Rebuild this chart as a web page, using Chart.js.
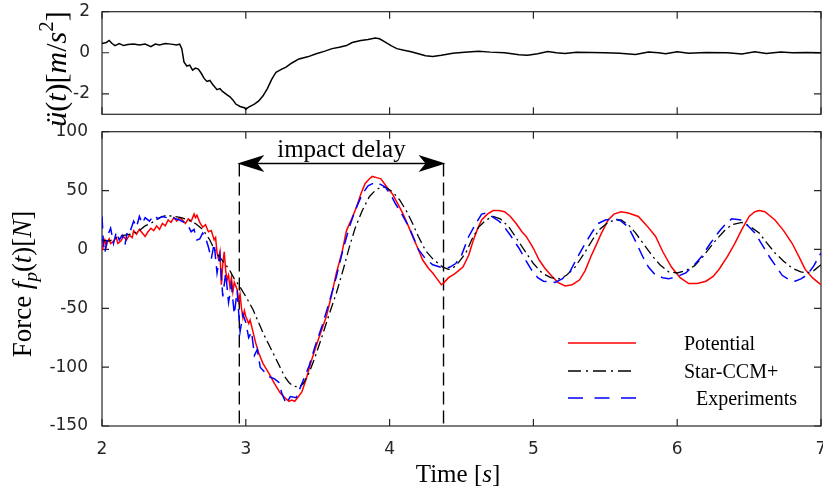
<!DOCTYPE html>
<html>
<head>
<meta charset="utf-8">
<script src="https://cdn.jsdelivr.net/npm/chart.js@4.4.0/dist/chart.umd.min.js"></script>
<style>
html,body{margin:0;padding:0;background:#fff;overflow:hidden;}
#wrap{position:relative;width:823px;height:494px;overflow:hidden;}
canvas{position:absolute;left:0;top:0;}
</style>
</head>
<body>
<div id="wrap">
  <canvas id="accChart" width="823" height="494"></canvas>
  <canvas id="forceChart" width="823" height="494"></canvas>
</div>
<script>
// ---------- data ----------
const timeTicks  = [2, 3, 4, 5, 6, 7];
const accTicks   = [-2, 0, 2];
const forceTicks = [-150, -100, -50, 0, 50, 100];
const timeRange  = [2, 7];
const accRange   = [-3, 2];
const forceRange = [-150, 100];

const seriesNames = ['Potential', 'Star-CCM+', 'Experiments'];

const impactStart = 2.955;
const impactEnd   = 4.375;
const impactLevel = 73;
const impactText  = 'impact delay';

// top panel: acceleration [t, a]
const acceleration = [
 [2.00,0.45],[2.03,0.5],[2.05,0.6],[2.07,0.45],[2.09,0.35],[2.12,0.45],[2.15,0.35],[2.18,0.4],
 [2.22,0.42],[2.26,0.38],[2.30,0.42],[2.34,0.3],[2.37,0.42],[2.40,0.38],[2.44,0.45],[2.48,0.42],
 [2.52,0.38],[2.54,0.42],[2.555,0.2],[2.57,-0.45],[2.59,-0.65],[2.61,-0.6],[2.63,-0.85],[2.65,-0.75],
 [2.67,-0.8],[2.69,-1.0],[2.71,-1.25],[2.73,-1.4],[2.75,-1.35],[2.77,-1.55],[2.80,-1.8],[2.82,-1.75],
 [2.84,-1.9],[2.87,-2.05],[2.89,-2.15],[2.91,-2.3],[2.93,-2.5],[2.96,-2.62],[2.99,-2.68],[3.00,-2.75],
 [3.02,-2.65],[3.06,-2.5],[3.09,-2.35],[3.12,-2.1],[3.15,-1.75],[3.18,-1.3],[3.21,-0.95],[3.25,-0.8],
 [3.28,-0.7],[3.32,-0.5],[3.37,-0.3],[3.43,-0.2],[3.49,-0.05],[3.55,0.08],[3.60,0.2],[3.65,0.27],
 [3.70,0.35],[3.74,0.5],[3.80,0.6],[3.85,0.65],[3.90,0.72],[3.93,0.68],[3.97,0.52],[4.01,0.35],
 [4.05,0.2],[4.10,0.12],[4.15,0.05],[4.20,-0.05],[4.25,-0.15],[4.30,-0.18],[4.36,-0.12],[4.44,-0.02],
 [4.52,0.02],[4.62,0.07],[4.70,0.03],[4.80,0.0],[4.90,-0.1],[4.96,-0.12],[5.03,-0.05],[5.10,0.06],
 [5.16,0.0],[5.22,-0.04],[5.30,0.02],[5.40,0.01],[5.50,0.0],[5.60,-0.02],[5.71,-0.08],[5.80,0.04],
 [5.87,0.0],[5.92,-0.05],[6.00,0.05],[6.08,-0.03],[6.20,0.01],[6.35,0.0],[6.45,-0.06],[6.54,0.05],
 [6.62,-0.04],[6.72,0.04],[6.80,0.0],[6.90,0.01],[7.00,0.0]
];

// bottom panel: force [t, F]
const potential = [
 [2.00,0],[2.005,9],[2.01,4],[2.02,8],[2.03,3],[2.04,7],[2.05,9],[2.06,5],[2.08,7],[2.10,10],[2.11,5],
 [2.13,7],[2.15,11],[2.17,8],[2.19,12],[2.21,10],[2.22,16],[2.24,13],[2.26,17],[2.28,14],[2.30,11],
 [2.32,15],[2.34,18],[2.36,16],[2.38,20],[2.40,17],[2.42,22],[2.44,20],[2.46,25],[2.48,23],[2.50,27],
 [2.52,24],[2.54,27],[2.56,25],[2.58,22],[2.60,26],[2.62,24],[2.64,30],[2.65,27],[2.66,29],[2.68,23],
 [2.70,19],[2.72,21],[2.74,15],[2.76,16],[2.78,8],[2.79,10],[2.80,-3],[2.81,-8],[2.82,-2],[2.83,-30],
 [2.84,-12],[2.85,-2],[2.86,-18],[2.87,-26],[2.88,-22],[2.89,-32],[2.90,-24],[2.91,-36],[2.92,-28],
 [2.94,-34],[2.95,-44],[2.96,-38],[2.97,-50],[2.98,-58],[2.99,-52],[3.00,-57],[3.02,-63],[3.03,-60],
 [3.05,-70],[3.07,-80],[3.09,-88],[3.12,-97],[3.16,-105],[3.20,-114],[3.24,-122],[3.28,-127],
 [3.30,-129],[3.32,-128],[3.34,-129],[3.36,-126],[3.39,-121],[3.42,-110],[3.46,-93],[3.50,-78],
 [3.56,-57],[3.60,-37],[3.63,-20],[3.67,-2],[3.70,16],[3.74,27],[3.77,36],[3.80,47],[3.83,56],
 [3.86,60],[3.88,62],[3.91,61],[3.94,60],[3.98,53],[4.02,47],[4.06,38],[4.09,31],[4.13,20],[4.16,11],
 [4.20,0],[4.23,-9],[4.27,-16],[4.30,-20],[4.33,-25],[4.36,-30],[4.38,-28],[4.41,-24],[4.45,-21],
 [4.48,-18],[4.51,-15],[4.55,-5],[4.58,7],[4.61,17],[4.64,25],[4.68,30],[4.72,33],[4.76,33],[4.80,32],
 [4.84,28],[4.88,22],[4.92,15],[4.95,11],[5.00,1],[5.04,-9],[5.08,-16],[5.13,-23],[5.17,-28],
 [5.22,-31],[5.27,-30],[5.32,-26],[5.36,-18],[5.40,-6],[5.43,2],[5.47,13],[5.52,25],[5.56,30],
 [5.61,32],[5.66,31],[5.73,28],[5.79,20],[5.85,11],[5.90,-2],[5.96,-15],[6.02,-24],[6.08,-29],
 [6.14,-29],[6.20,-27],[6.25,-23],[6.29,-17],[6.35,-6],[6.40,5],[6.45,17],[6.50,28],[6.54,32],
 [6.57,33],[6.61,32],[6.68,25],[6.74,16],[6.80,5],[6.85,-7],[6.89,-17],[6.94,-24],[6.99,-29],[7.00,-30]
];

const starCcm = [
 [2.00,8],[2.05,7],[2.10,10],[2.15,12],[2.20,13],[2.25,15],[2.30,20],[2.35,23],[2.40,27],[2.45,29],
 [2.50,28],[2.55,27],[2.60,25],[2.65,22],[2.70,17],[2.75,8],[2.79,-2],[2.84,-10],[2.885,-17],
 [2.92,-25],[2.955,-31],[3.00,-40],[3.05,-51],[3.12,-71],[3.21,-93],[3.27,-108],[3.30,-113],
 [3.33,-116],[3.37,-117],[3.40,-114],[3.44,-105],[3.48,-92],[3.53,-74],[3.58,-55],[3.63,-37],
 [3.68,-16],[3.72,2],[3.76,18],[3.81,33],[3.86,45],[3.90,50],[3.94,53],[3.97,53],[4.02,49],
 [4.07,42],[4.12,32],[4.16,22],[4.20,11],[4.25,-1],[4.30,-8],[4.34,-12],[4.37,-15],[4.41,-17],
 [4.44,-16],[4.48,-11],[4.53,-3],[4.57,8],[4.62,19],[4.67,25],[4.72,28],[4.77,26],[4.83,19],
 [4.89,8],[4.95,-3],[5.00,-12],[5.06,-20],[5.12,-24],[5.18,-25],[5.23,-22],[5.29,-15],[5.35,-4],
 [5.41,8],[5.46,17],[5.52,23],[5.57,25],[5.61,25],[5.66,21],[5.71,14],[5.77,4],[5.83,-6],[5.88,-13],
 [5.94,-19],[6.00,-20],[6.06,-18],[6.12,-14],[6.18,-6],[6.23,2],[6.27,8],[6.33,16],[6.38,21],
 [6.45,23],[6.50,20],[6.57,14],[6.62,6],[6.68,-3],[6.74,-10],[6.80,-16],[6.86,-19],[6.90,-20],
 [6.95,-18],[7.00,-13]
];

const experiments = [
 [2.00,28],[2.01,5],[2.02,-3],[2.04,12],[2.06,18],[2.08,5],[2.10,15],[2.12,8],[2.14,12],[2.16,4],
 [2.18,18],[2.20,17],[2.22,24],[2.24,19],[2.26,28],[2.28,22],[2.30,27],[2.33,24],[2.36,29],[2.39,26],
 [2.42,28],[2.45,27],[2.48,28],[2.51,26],[2.54,25],[2.57,23],[2.60,20],[2.62,15],[2.64,17],[2.66,8],
 [2.68,9],[2.70,14],[2.72,10],[2.74,2],[2.76,-8],[2.78,5],[2.80,-20],[2.82,-5],[2.84,-40],[2.86,-20],
 [2.88,-45],[2.90,-30],[2.92,-55],[2.94,-35],[2.96,-70],[2.98,-55],[3.00,-62],[3.02,-75],[3.04,-70],
 [3.06,-90],[3.08,-85],[3.10,-100],[3.13,-104],[3.16,-108],[3.20,-110],[3.23,-113],[3.25,-122],
 [3.28,-131],[3.31,-125],[3.35,-126],[3.38,-117],[3.41,-108],[3.44,-99],[3.48,-83],[3.53,-65],
 [3.58,-45],[3.63,-23],[3.67,-3],[3.72,19],[3.76,33],[3.81,47],[3.85,54],[3.90,57],[3.94,55],
 [3.97,53],[4.01,46],[4.04,39],[4.09,29],[4.135,19],[4.17,9],[4.20,0],[4.25,-8],[4.30,-13],
 [4.35,-15],[4.39,-16],[4.42,-15],[4.46,-12],[4.50,-5],[4.55,11],[4.60,22],[4.64,30],[4.68,31],
 [4.71,28],[4.75,25],[4.78,22],[4.84,12],[4.90,1],[4.95,-10],[4.99,-18],[5.03,-24],[5.07,-27],
 [5.15,-28],[5.20,-25],[5.25,-20],[5.30,-8],[5.36,5],[5.41,15],[5.45,22],[5.50,25],[5.57,26],
 [5.61,24],[5.66,19],[5.71,7],[5.76,-6],[5.80,-15],[5.85,-22],[5.90,-24],[5.94,-25],[6.00,-23],
 [6.06,-20],[6.12,-13],[6.17,-6],[6.23,5],[6.29,15],[6.34,22],[6.38,26],[6.45,25],[6.50,19],
 [6.54,14],[6.59,4],[6.64,-6],[6.69,-15],[6.73,-22],[6.78,-26],[6.82,-27],[6.86,-25],[6.90,-22],
 [6.95,-14],[6.99,-5],[7.00,-3]
];

// ---------- helpers ----------
const SERIF = '"Liberation Serif", "Times New Roman", serif';
const SANS  = '"DejaVu Sans", "Liberation Sans", sans-serif';
const AXC = '#262626';
const toXY = arr => arr.map(p => ({x: p[0], y: p[1]}));

function drawRich(ctx, segs, x, y, size, rotated) {
  ctx.save();
  ctx.translate(x, y);
  if (rotated) ctx.rotate(-Math.PI / 2);
  ctx.textAlign = 'left';
  ctx.textBaseline = 'alphabetic';
  ctx.fillStyle = '#000';
  const fontOf = s => (s.i ? 'italic ' : '') + Math.round(size * (s.sup || s.sub ? 0.7 : 1)) + 'px ' + SERIF;
  let total = 0;
  const widths = segs.map(s => { ctx.font = fontOf(s); const w = ctx.measureText(s.t).width; total += w; return w; });
  let cx = -total / 2;
  segs.forEach((s, k) => {
    ctx.font = fontOf(s);
    const dy = s.sub ? 0.22 * size : (s.sup ? -0.42 * size : 0);
    ctx.fillText(s.t, cx, dy);
    cx += widths[k];
  });
  ctx.restore();
}

const framePlugin = {
  id: 'frame',
  beforeDatasetsDraw(chart, args, opts) {
    const {ctx, chartArea: a, scales} = chart;
    ctx.save();
    ctx.strokeStyle = AXC;
    ctx.lineWidth = 1.2;
    ctx.strokeRect(a.left, a.top, a.right - a.left, a.bottom - a.top);
    const L = 7;
    ctx.beginPath();
    opts.xTicks.forEach(v => {
      const p = scales.x.getPixelForValue(v);
      ctx.moveTo(p, a.bottom); ctx.lineTo(p, a.bottom - L);
      ctx.moveTo(p, a.top); ctx.lineTo(p, a.top + L);
    });
    opts.yTicks.forEach(v => {
      const p = scales.y.getPixelForValue(v);
      ctx.moveTo(a.left, p); ctx.lineTo(a.left + L, p);
      ctx.moveTo(a.right, p); ctx.lineTo(a.right - L, p);
    });
    ctx.stroke();
    ctx.restore();
  }
};

const accTitle = [
  {t: 'ü', i: true}, {t: '('}, {t: 't', i: true}, {t: ')'}, {t: '['},
  {t: 'm', i: true}, {t: '/'}, {t: 's', i: true}, {t: '2', sup: true}, {t: ']'}
];
const forceTitle = [
  {t: 'Force '}, {t: 'f', i: true}, {t: 'p', i: true, sub: true}, {t: '('}, {t: 't', i: true},
  {t: ')'}, {t: '['}, {t: 'N', i: true}, {t: ']'}
];
const timeTitle = [{t: 'Time '}, {t: '['}, {t: 's', i: true}, {t: ']'}];

const accTitlePlugin = {
  id: 'accTitle',
  afterDraw(chart) {
    drawRich(chart.ctx, accTitle, 66, 69, 30, true);
  }
};

const legendStyles = [
  {color: '#ff0000', dash: [], width: 1.6},
  {color: '#000000', dash: [13, 5, 2, 5], width: 1.4},
  {color: '#0000ff', dash: [15, 11.5], width: 1.6}
];

const forceDecor = {
  id: 'forceDecor',
  afterDraw(chart) {
    const {ctx, scales} = chart;
    // axis titles
    drawRich(ctx, forceTitle, 31, 284, 27, true);
    drawRich(ctx, timeTitle, 458, 482, 25, false);
    // impact delay arrow
    const xl = scales.x.getPixelForValue(impactStart) - 2;
    const xr = scales.x.getPixelForValue(impactEnd) + 2;
    const ya = scales.y.getPixelForValue(impactLevel);
    ctx.save();
    ctx.strokeStyle = '#000'; ctx.fillStyle = '#000'; ctx.lineWidth = 1.5;
    ctx.beginPath(); ctx.moveTo(xl + 10, ya); ctx.lineTo(xr - 10, ya); ctx.stroke();
    const head = (tip, dir) => {
      const Lh = 27, W = 8.5, N = 20;
      ctx.beginPath();
      ctx.moveTo(tip, ya);
      ctx.lineTo(tip - dir * Lh, ya - W);
      ctx.lineTo(tip - dir * N, ya);
      ctx.lineTo(tip - dir * Lh, ya + W);
      ctx.closePath(); ctx.fill();
    };
    head(xl, -1); head(xr, 1);
    ctx.font = '25px ' + SERIF;
    ctx.textAlign = 'center'; ctx.textBaseline = 'alphabetic';
    ctx.fillText(impactText, (xl + xr) / 2, ya - 6);
    // legend
    const rows = [343, 371, 398];
    const textX = [684, 684, 696];
    ctx.font = '20px ' + SERIF;
    ctx.textAlign = 'left'; ctx.textBaseline = 'middle';
    seriesNames.forEach((name, k) => {
      const st = legendStyles[k];
      ctx.strokeStyle = st.color; ctx.lineWidth = st.width; ctx.setLineDash(st.dash);
      ctx.beginPath(); ctx.moveTo(568, rows[k]); ctx.lineTo(636, rows[k]); ctx.stroke();
      ctx.setLineDash([]);
      ctx.fillStyle = '#000';
      ctx.fillText(name, textX[k], rows[k] + 2);
    });
    ctx.restore();
  }
};

const tickFont = {family: SANS, size: 17};
const setTicks = arr => (s => { s.ticks = arr.map(v => ({value: v})); });
// keep the plot box fixed: no automatic padding for overhanging tick labels
const noPad = s => { s.paddingLeft = 0; s.paddingRight = 0; s.paddingTop = 0; s.paddingBottom = 0; };

// ---------- top chart (acceleration) ----------
new Chart(document.getElementById('accChart'), {
  type: 'line',
  data: {
    datasets: [{
      label: 'acceleration',
      data: toXY(acceleration),
      borderColor: '#000', borderWidth: 1.5, pointRadius: 0, fill: false, tension: 0
    }]
  },
  options: {
    responsive: false, animation: false, devicePixelRatio: 1,
    layout: {padding: {left: 0, right: 2, top: 11.7, bottom: 494 - 114.3}},
    plugins: {legend: {display: false}, tooltip: {enabled: false},
      frame: {xTicks: timeTicks, yTicks: accTicks}},
    scales: {
      x: {type: 'linear', display: false, min: timeRange[0], max: timeRange[1],
          afterBuildTicks: setTicks(timeTicks), ticks: {display: false},
          afterFit: s => { noPad(s); }},
      y: {
        type: 'linear', min: accRange[0], max: accRange[1], afterBuildTicks: setTicks(accTicks),
        ticks: {font: tickFont, color: AXC, padding: 12, callback: v => String(v)},
        grid: {display: false, drawTicks: false}, border: {display: false},
        afterFit: s => { s.width = 102; noPad(s); }
      }
    }
  },
  plugins: [framePlugin, accTitlePlugin]
});

// ---------- bottom chart (force) ----------
new Chart(document.getElementById('forceChart'), {
  type: 'line',
  data: {
    datasets: [
      {label: seriesNames[2], data: toXY(experiments), borderColor: '#0000ff', borderWidth: 1.5,
       borderDash: [12, 7], pointRadius: 0, fill: false, tension: 0},
      {label: seriesNames[1], data: toXY(starCcm), borderColor: '#000000', borderWidth: 1.3,
       borderDash: [10, 4, 2, 4], pointRadius: 0, fill: false, tension: 0},
      {label: seriesNames[0], data: toXY(potential), borderColor: '#ff0000', borderWidth: 1.5,
       pointRadius: 0, fill: false, tension: 0},
      {label: 'impact start', data: [{x: impactStart, y: impactLevel}, {x: impactStart, y: forceRange[0]}],
       borderColor: '#000', borderWidth: 1.4, borderDash: [13, 6], pointRadius: 0, fill: false},
      {label: 'impact end', data: [{x: impactEnd, y: impactLevel}, {x: impactEnd, y: forceRange[0]}],
       borderColor: '#000', borderWidth: 1.4, borderDash: [13, 6], pointRadius: 0, fill: false}
    ]
  },
  options: {
    responsive: false, animation: false, devicePixelRatio: 1,
    layout: {padding: {left: 0, right: 2, top: 131.7, bottom: 0}},
    plugins: {legend: {display: false}, tooltip: {enabled: false},
      frame: {xTicks: timeTicks, yTicks: forceTicks}},
    scales: {
      x: {
        type: 'linear', min: timeRange[0], max: timeRange[1], afterBuildTicks: setTicks(timeTicks),
        ticks: {font: tickFont, color: AXC, padding: 13, maxRotation: 0, callback: v => String(v)},
        grid: {display: false, drawTicks: false}, border: {display: false},
        afterFit: s => { s.height = 68; noPad(s); }
      },
      y: {
        type: 'linear', min: forceRange[0], max: forceRange[1], afterBuildTicks: setTicks(forceTicks),
        ticks: {font: tickFont, color: AXC, padding: 14, callback: v => String(v)},
        grid: {display: false, drawTicks: false}, border: {display: false},
        afterFit: s => { s.width = 102; noPad(s); }
      }
    }
  },
  plugins: [framePlugin, forceDecor]
});
</script>
</body>
</html>
